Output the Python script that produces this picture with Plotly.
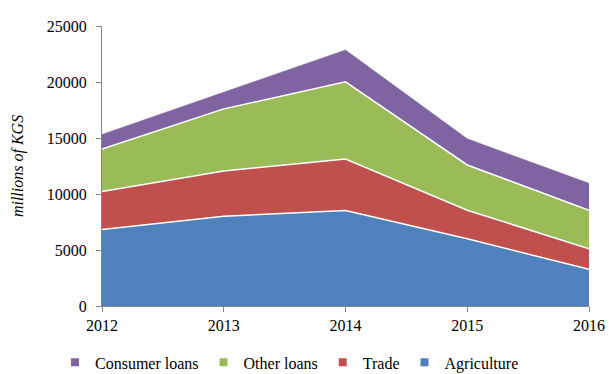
import plotly.graph_objects as go

years = [2012, 2013, 2014, 2015, 2016]

# Loan portfolio by sector, millions of KGS
agriculture = [6830, 8015, 8520, 6000, 3270]
trade = [3385, 4040, 4600, 2550, 1840]
other_loans = [3800, 5545, 6890, 4040, 3440]
consumer_loans = [1305, 1490, 2850, 2340, 2400]

y_ticks = [0, 5000, 10000, 15000, 20000, 25000]

series = [
    ("Agriculture", agriculture, "#4F81BD"),
    ("Trade", trade, "#C0504D"),
    ("Other loans", other_loans, "#9BBB59"),
    ("Consumer loans", consumer_loans, "#8064A2"),
]

fig = go.Figure()
for name, vals, color in series:
    top = name == "Consumer loans"
    fig.add_trace(go.Scatter(
        x=years, y=vals, name=name, mode="lines",
        stackgroup="loans", showlegend=False,
        fillcolor=color,
        line=dict(color=color if top else "white", width=0.5 if top else 1.5),
    ))

# Square legend keys, listed top series first
for name, vals, color in reversed(series):
    fig.add_trace(go.Scatter(
        x=[None], y=[None], name=name, mode="markers",
        marker=dict(symbol="square", size=8, color=color),
    ))

font_family = "Times New Roman"

fig.update_layout(
    width=609, height=374,
    margin=dict(l=102, r=20, t=26, b=68),
    paper_bgcolor="white", plot_bgcolor="white",
    font=dict(family=font_family, size=16, color="black"),
    showlegend=True,
    legend=dict(
        orientation="h", traceorder="normal",
        x=0.385, xanchor="center", xref="paper",
        y=0.031, yanchor="middle", yref="container",
        font=dict(family=font_family, size=16),
        itemwidth=30,
    ),
    xaxis=dict(
        range=[2012, 2016], tickvals=years, ticktext=[str(y) for y in years],
        showline=True, linecolor="#868686", linewidth=1,
        ticks="outside", tickcolor="#868686", ticklen=5,
        showgrid=False, zeroline=False, automargin=False,
        tickfont=dict(family=font_family, size=16),
    ),
    yaxis=dict(
        range=[0, 25000], tickvals=y_ticks, ticktext=[str(v) for v in y_ticks],
        showline=True, linecolor="#868686", linewidth=1,
        ticks="outside", tickcolor="#868686", ticklen=5,
        ticklabelstandoff=6,
        showgrid=False, zeroline=False, automargin=False,
        tickfont=dict(family=font_family, size=16),
        title=dict(text="<i>millions of KGS</i>",
                   font=dict(family=font_family, size=16), standoff=19),
    ),
)

fig.write_html("out.html")
